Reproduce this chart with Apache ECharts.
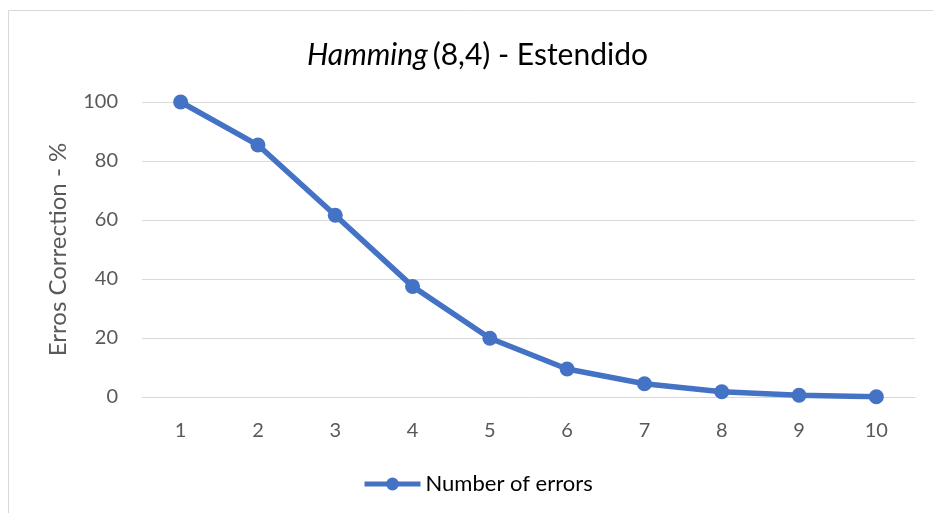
<!DOCTYPE html>
<html><head><meta charset="utf-8">
<script src="https://cdn.jsdelivr.net/npm/echarts@6/dist/echarts.min.js"></script>
<style>html,body{margin:0;padding:0;background:#fff}#c{width:933px;height:513px}</style>
</head><body><div id="c"></div>
<script>
const categories = ['1','2','3','4','5','6','7','8','9','10'];
const values = [100, 85.4, 61.6, 37.5, 19.9, 9.5, 4.5, 1.8, 0.6, 0.1];
const yTicks = { min: 0, max: 100, interval: 20 };
const seriesName = 'Number of errors';
const yName = 'Erros Correction - %';

const FONT = 'Lato, "Open Sans", sans-serif';
const chart = echarts.init(document.getElementById('c'));
chart.setOption({
  animation: false,
  backgroundColor: '#fff',
  graphic: [{ type: 'rect', shape: { x: 8.5, y: 10.5, width: 940, height: 520 }, style: { fill: 'none', stroke: '#d9d9d9', lineWidth: 1 }, silent: true }],
  title: {
    text: '{i|Hamming} {n|(8,4) - Estendido}',
    left: 302, top: 35,
    textStyle: { fontWeight: 'normal', rich: {
      i: { fontFamily: FONT, fontSize: 30, fontStyle: 'italic', fontWeight: 'normal', color: '#000' },
      n: { fontFamily: FONT, fontSize: 30, fontWeight: 'normal', color: '#000' }
    } }
  },
  legend: {
    top: 468, left: 357,
    itemWidth: 56, itemHeight: 16,
    lineStyle: { width: 5 },
    textStyle: { fontFamily: FONT, fontSize: 22, color: '#000' },
    data: [seriesName]
  },
  grid: { left: 142, right: 18, top: 102, bottom: 116 },
  xAxis: {
    type: 'category', data: categories, boundaryGap: true,
    axisLine: { show: true, lineStyle: { color: '#d9d9d9', width: 1 } },
    axisTick: { show: false },
    axisLabel: { fontFamily: FONT, fontSize: 20, color: '#595959', margin: 24 }
  },
  yAxis: {
    type: 'value', min: yTicks.min, max: yTicks.max, interval: yTicks.interval,
    name: yName, nameLocation: 'middle', nameGap: 72, nameRotate: 90,
    nameTextStyle: { fontFamily: FONT, fontSize: 24, color: '#595959' },
    axisLine: { show: false }, axisTick: { show: false },
    axisLabel: { fontFamily: FONT, fontSize: 20, color: '#595959', margin: 24 },
    splitLine: { lineStyle: { color: '#d9d9d9', width: 1 } }
  },
  series: [{
    name: seriesName, type: 'line', data: values,
    symbol: 'circle', symbolSize: 15,
    lineStyle: { color: '#4472C4', width: 5.5 },
    itemStyle: { color: '#4472C4' }
  }]
});
</script></body></html>
